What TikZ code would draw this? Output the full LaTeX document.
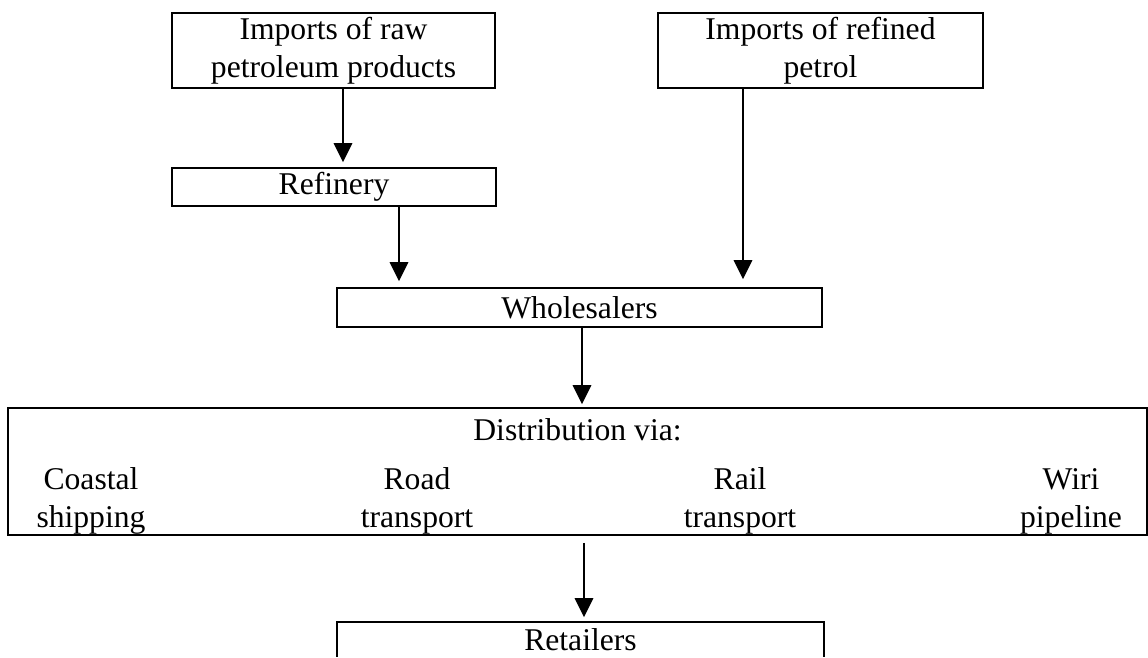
\documentclass[tikz,border=0pt]{standalone}
\usepackage{fontspec}
\setmainfont{Liberation Serif}
\usetikzlibrary{arrows.meta}

\begin{document}
\begin{tikzpicture}[
    box/.style={rectangle, draw, line width=0.9pt, inner sep=0pt, align=center, font=\fontsize{18}{21.5}\selectfont},
    mode/.style={align=center, inner sep=0pt, anchor=base, font=\fontsize{18}{21.5}\selectfont},
    arrow/.style={-{Triangle[width=0.37cm, length=0.38cm]}, line width=0.9pt}
    ]

    % Page frame
    \useasboundingbox (0,0) rectangle (22.96,-13.14);

    % Define the supply boxes
    \node[box, minimum width=6.46cm, minimum height=1.5cm] (rawimp) at (6.67,-1.01) {Imports of raw\\petroleum products};
    \node[box, minimum width=6.5cm, minimum height=1.5cm] (refimp) at (16.41,-1.01) {Imports of refined\\petrol};
    \node[box, minimum width=6.48cm, minimum height=0.76cm] (refinery) at (6.68,-3.74) {Refinery};
    \node[box, minimum width=9.7cm, minimum height=0.78cm] (wholesale) at (11.59,-6.15) {Wholesalers};
    \node[box, minimum width=22.78cm, minimum height=2.54cm] (distrib) at (11.55,-9.43) {};

    % Retailers box runs off the page, so no bottom edge
    \node[box, draw=none, minimum width=9.7cm, minimum height=0.66cm] (retail) at (11.61,-12.79) {Retailers};
    \draw[line width=0.9pt] (retail.south west) -- (retail.north west) -- (retail.north east) -- (retail.south east);

    % Distribution modes
    \node[mode] (distvia) at (11.55,-8.80) {Distribution via:};
    \node[mode] (coastal) at (1.82,-10.54) {Coastal\\shipping};
    \node[mode] (road) at (8.34,-10.54) {Road\\transport};
    \node[mode] (rail) at (14.80,-10.54) {Rail\\transport};
    \node[mode] (wiri) at (21.42,-10.54) {Wiri\\pipeline};

    % Connect the boxes
    \draw[arrow, shorten >=0.1cm] ([xshift=0.19cm]rawimp.south) -- ([xshift=0.19cm]rawimp.south |- refinery.north);
    \draw[arrow, shorten >=0.12cm] ([xshift=1.3cm]refinery.south) -- ([xshift=1.3cm]refinery.south |- wholesale.north);
    \draw[arrow, shorten >=0.16cm] ([xshift=-1.55cm]refimp.south) -- ([xshift=-1.55cm]refimp.south |- wholesale.north);
    \draw[arrow, shorten >=0.06cm] ([xshift=0.05cm]wholesale.south) -- ([xshift=0.05cm]wholesale.south |- distrib.north);
    \draw[arrow, shorten <=0.14cm, shorten >=0.1cm] ([xshift=0.07cm]distrib.south -| retail.north) -- ([xshift=0.07cm]retail.north);

\end{tikzpicture}
\end{document}
